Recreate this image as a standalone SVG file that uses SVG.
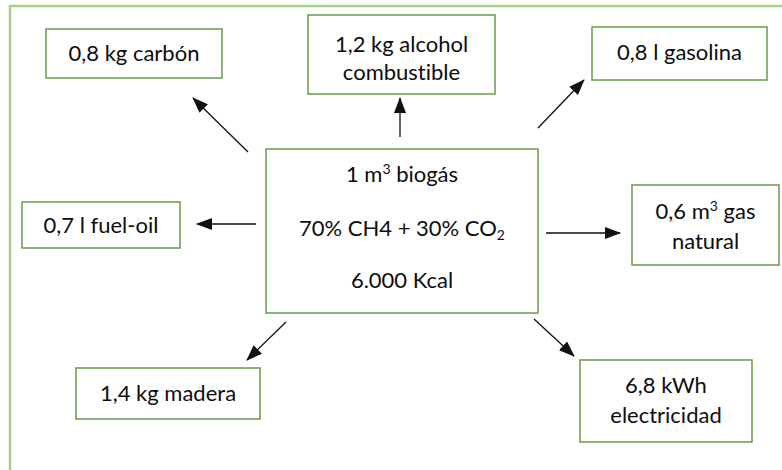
<svg xmlns="http://www.w3.org/2000/svg" width="782" height="470" viewBox="0 0 782 470">
  <defs>
    <style>
      .frame { fill: none; stroke: #a9d18e; stroke-width: 2.5; }
      .box { fill: #ffffff; stroke: #6a9a48; stroke-width: 1.5; }
      .lbl { font-family: "Lato", "Open Sans", "Liberation Sans", sans-serif; font-size: 22px; fill: #0d0d0d; text-anchor: middle; font-variant-ligatures: none; }
      .sup { font-size: 14px; }
      .conn line { stroke: #111111; stroke-width: 1.3; marker-end: url(#head); }
    </style>
    <marker id="head" markerUnits="userSpaceOnUse" markerWidth="17" markerHeight="13" refX="15" refY="6" orient="auto">
      <path d="M0,0 L16,6 L0,12 Z" fill="#111111"/>
    </marker>
  </defs>

  <rect width="782" height="470" fill="#ffffff"/>
  <!-- page border -->
  <rect class="frame" x="10" y="6" width="790" height="480"/>

  <!-- connectors -->
  <g id="connectors" class="conn">
    <line x1="248" y1="152" x2="193" y2="98"/>
    <line x1="400" y1="137" x2="400" y2="98"/>
    <line x1="538" y1="128" x2="584" y2="80"/>
    <line x1="256" y1="224" x2="197" y2="224"/>
    <line x1="546" y1="233" x2="620" y2="233"/>
    <line x1="286" y1="322" x2="247" y2="360"/>
    <line x1="534" y1="319" x2="574" y2="356"/>
  </g>

  <!-- central node -->
  <g id="biogas">
    <rect class="box" x="266" y="149" width="272" height="164"/>
    <text class="lbl" x="402" y="182">1 m<tspan class="sup" dy="-8">3</tspan><tspan dy="8"> biogás</tspan></text>
    <text class="lbl" x="402" y="236">70% CH4 + 30% CO<tspan class="sup" dy="4">2</tspan></text>
    <text class="lbl" x="402" y="288">6.000 Kcal</text>
  </g>

  <g id="carbon">
    <rect class="box" x="46" y="29" width="176" height="49"/>
    <text class="lbl" x="134" y="61">0,8 kg carbón</text>
  </g>

  <g id="alcohol">
    <rect class="box" x="308" y="15" width="187" height="79"/>
    <text class="lbl" x="401.5" y="52">1,2 kg alcohol</text>
    <text class="lbl" x="401.5" y="80">combustible</text>
  </g>

  <g id="gasolina">
    <rect class="box" x="592" y="27" width="175" height="53"/>
    <text class="lbl" x="679.5" y="60">0,8 l gasolina</text>
  </g>

  <g id="fueloil">
    <rect class="box" x="22" y="202" width="158" height="46"/>
    <text class="lbl" x="101" y="233">0,7 l fuel-oil</text>
  </g>

  <g id="gasnatural">
    <rect class="box" x="632" y="185" width="147" height="80"/>
    <text class="lbl" x="705.5" y="219">0,6 m<tspan class="sup" dy="-8">3</tspan><tspan dy="8"> gas</tspan></text>
    <text class="lbl" x="705.5" y="249">natural</text>
  </g>

  <g id="madera">
    <rect class="box" x="76" y="368" width="184" height="51"/>
    <text class="lbl" x="168" y="401">1,4 kg madera</text>
  </g>

  <g id="electricidad">
    <rect class="box" x="580" y="360" width="172" height="82"/>
    <text class="lbl" x="666" y="393">6,8 kWh</text>
    <text class="lbl" x="666" y="423">electricidad</text>
  </g>
</svg>
